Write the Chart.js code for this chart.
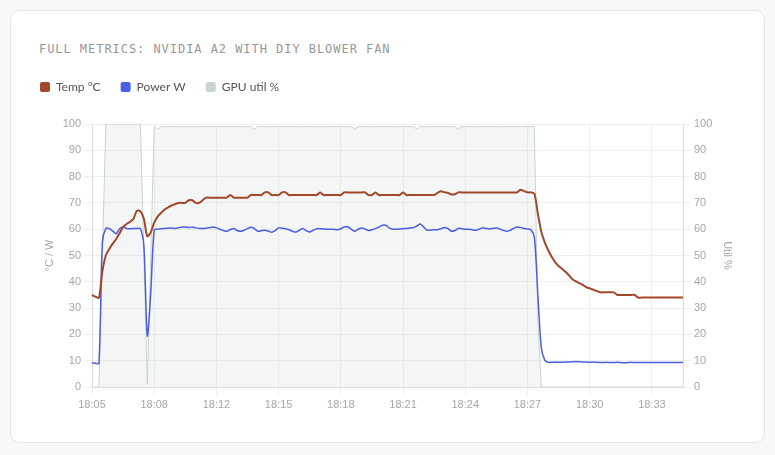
<!DOCTYPE html>
<html>
<head>
<meta charset="utf-8">
<title>Full metrics: NVIDIA A2 with DIY blower fan</title>
<script src="https://cdn.jsdelivr.net/npm/chart.js@4.4.1/dist/chart.umd.min.js"></script>
<style>
  html, body { margin: 0; padding: 0; }
  body { width: 775px; height: 455px; background: #f8f8f6; position: relative; overflow: hidden; }
  .card {
    position: absolute; left: 10px; top: 10px; width: 755px; height: 433px;
    box-sizing: border-box; background: #fff; border: 1px solid #e4e4e1; border-radius: 10px;
  }
  .chart-title {
    position: absolute; left: 39px; top: 42px; white-space: nowrap;
    font: 12px/14px "DejaVu Sans Mono", monospace; letter-spacing: 0.95px; color: #979797;
  }
  .chart-wrap { position: absolute; left: 0; top: 0; width: 775px; height: 455px; }
</style>
</head>
<body>
<div class="card"></div>
<div class="chart-title">FULL METRICS: NVIDIA A2 WITH DIY BLOWER FAN</div>
<div class="chart-wrap"><canvas id="metricsChart" width="775" height="455"></canvas></div>

<script>
/* ==========================================================================
   Full metrics chart: GPU temperature, power draw and utilisation over time.
   One sample roughly every 10 s; the x axis only labels every 18th sample.
   ========================================================================== */

const timeTicks = ["18:05", "18:08", "18:12", "18:15", "18:18", "18:21", "18:24", "18:27", "18:30", "18:33"];
const samplesPerTick = 18;

const tempC = [
  35, 34.3, 34, 44, 50, 52.5, 54.5, 56.3, 58.5, 60.8,
  62, 62.8, 64, 67, 66.8, 64, 57.3, 58.8, 62.5, 64.8,
  66.2, 67.5, 68.3, 69, 69.5, 70, 70, 70, 71, 71,
  70, 70, 71, 72, 72, 72, 72, 72, 72, 72,
  73, 72, 72, 72, 72, 72, 73, 73, 73, 73,
  74, 74, 73, 73, 73, 74, 74, 73, 73, 73,
  73, 73, 73, 73, 73, 73, 74, 73, 73, 73,
  73, 73, 73, 74, 74, 74, 74, 74, 74, 74,
  73, 73, 74, 73, 73, 73, 73, 73, 73, 73,
  74, 73, 73, 73, 73, 73, 73, 73, 73, 73,
  73.8, 74.4, 74, 73.8, 73.2, 73.3, 74, 74, 74, 74,
  74, 74, 74, 74, 74, 74, 74, 74, 74, 74,
  74, 74, 74, 74, 75, 74.5, 74, 74, 73.5, 66,
  59, 55, 52, 49.5, 47.5, 46, 45, 43.8, 42.5, 41,
  40.2, 39.5, 38.8, 38, 37.5, 37, 36.5, 36, 36, 36,
  36, 36, 35, 35, 35, 35, 35, 35, 34, 34,
  34, 34, 34, 34, 34, 34, 34, 34, 34, 34,
  34, 34
];

const powerW = [
  9.2, 9, 9, 55, 60.3, 60.2, 59.3, 58.3, 60.2, 60.8,
  60.3, 60.2, 60.3, 60.3, 60.2, 54, 19.5, 36, 59.8, 60,
  60.2, 60.3, 60.4, 60.5, 60.3, 60.5, 60.8, 60.8, 60.6, 60.8,
  60.5, 60.3, 60.3, 60.4, 60.6, 60.8, 60.5, 60, 59.5, 59.2,
  59.8, 60.3, 59.5, 59.2, 59.6, 60.2, 60.7, 60.2, 59.2, 59.4,
  59.6, 59.3, 58.8, 59.5, 60.5, 60.4, 60.2, 59.8, 59.2, 58.9,
  59.6, 60.3, 59.4, 58.9, 59.6, 60.2, 60.2, 60.1, 60, 60,
  59.9, 59.8, 60.2, 60.8, 60.9, 60, 59.2, 60, 60.5, 60.1,
  59.5, 59.8, 60.2, 60.8, 61.5, 61.5, 60.5, 60, 60, 60.1,
  60.2, 60.3, 60.5, 60.6, 61.2, 62, 60.8, 59.6, 59.7, 59.8,
  59.8, 60.2, 60.6, 60.2, 59.2, 59.5, 60.3, 60.2, 60, 60,
  59.8, 59.6, 60, 60.5, 60.3, 60.1, 60.3, 60.5, 60.1, 59.6,
  59.2, 59.6, 60.3, 60.8, 60.6, 60.3, 60.1, 59.8, 57, 35,
  15, 10.2, 9.4, 9.4, 9.5, 9.4, 9.4, 9.5, 9.5, 9.6,
  9.7, 9.6, 9.5, 9.5, 9.4, 9.5, 9.4, 9.3, 9.3, 9.4,
  9.3, 9.3, 9.4, 9.3, 9.2, 9.3, 9.4, 9.3, 9.3, 9.3,
  9.3, 9.3, 9.3, 9.3, 9.3, 9.3, 9.3, 9.3, 9.3, 9.3,
  9.3, 9.3
];

const utilPct = [
  0, 0, 0, 50, 100, 100, 100, 100, 100, 100,
  100, 100, 100, 100, 100, 50, 1, 50, 99, 98,
  99, 99, 99, 99, 99, 99, 99, 99, 99, 99,
  99, 99, 99, 99, 99, 99, 99, 99, 99, 99,
  99, 99, 99, 99, 99, 99, 99, 98, 99, 99,
  99, 99, 99, 99, 99, 99, 99, 99, 99, 99,
  99, 99, 99, 99, 99, 99, 99, 99, 99, 99,
  99, 99, 99, 99, 99, 99, 98, 99, 99, 99,
  99, 99, 99, 99, 99, 99, 99, 99, 99, 99,
  99, 99, 99, 99, 98, 99, 99, 99, 99, 99,
  99, 99, 99, 99, 99, 99, 98, 99, 99, 99,
  99, 99, 99, 99, 99, 99, 99, 99, 99, 99,
  99, 99, 99, 99, 99, 99, 99, 99, 99, 25,
  0, 0, 0, 0, 0, 0, 0, 0, 0, 0,
  0, 0, 0, 0, 0, 0, 0, 0, 0, 0,
  0, 0, 0, 0, 0, 0, 0, 0, 0, 0,
  0, 0, 0, 0, 0, 0, 0, 0, 0, 0,
  0, 0
];

const yTicks = { min: 0, max: 100, step: 10 };

const GRID = "#efefef";
const BORDER = "#dcdcdc";
const TICK_TEXT = "#a6a6a6";

/* ---------------- extra room between the legend and the plot ---------------- */
const legendGap = {
  id: "legendGap",
  beforeInit(chart) {
    const fit = chart.legend.fit;
    chart.legend.fit = function () {
      fit.call(this);
      this.height += 21;
    };
  }
};

function renderMetricsChart() {
  const ctx = document.getElementById("metricsChart");
  if (!ctx || typeof Chart === "undefined") return;

  Chart.defaults.font.family = "'Liberation Sans', Arial, sans-serif";
  Chart.defaults.font.size = 11;
  Chart.defaults.color = TICK_TEXT;

  // only every 18th sample carries a time label
  const labels = tempC.map((_, i) => (i % samplesPerTick === 0 ? timeTicks[i / samplesPerTick] : ""));

  new Chart(ctx, {
    type: "line",
    data: {
      labels,
      datasets: [
        {
          label: "Temp °C",
          data: tempC,
          yAxisID: "y",
          borderColor: "#a3472b",
          backgroundColor: "#a3472b",
          borderWidth: 2,
          tension: 0.3
        },
        {
          label: "Power W",
          data: powerW,
          yAxisID: "y",
          borderColor: "#4d5de3",
          backgroundColor: "#4d5de3",
          borderWidth: 1.5,
          tension: 0.3
        },
        {
          label: "GPU util %",
          data: utilPct,
          yAxisID: "y1",
          borderColor: "#c9d4cf",
          backgroundColor: "rgba(200, 212, 206, 0.22)",
          borderWidth: 1,
          tension: 0,
          fill: "origin"
        }
      ]
    },
    options: {
      responsive: false,
      animation: false,
      events: [],
      elements: { point: { radius: 0 } },
      layout: { padding: { left: 20, top: 61, right: 36, bottom: 44 } },
      plugins: {
        tooltip: { enabled: false },
        legend: {
          position: "top",
          align: "start",
          labels: {
            boxWidth: 10,
            boxHeight: 10,
            padding: 20,
            color: "#555",
            useBorderRadius: true,
            borderRadius: 2,
            font: { family: "Lato, 'Noto Sans', sans-serif", size: 12 },
            generateLabels(chart) {
              return chart.data.datasets.map((ds, i) => ({
                text: ds.label,
                fillStyle: ds.borderColor,
                strokeStyle: ds.borderColor,
                lineWidth: 0,
                borderRadius: 2,
                fontColor: "#555",
                hidden: !chart.isDatasetVisible(i),
                datasetIndex: i
              }));
            }
          }
        }
      },
      scales: {
        x: {
          grid: { color: (c) => (c.index % samplesPerTick === 0 ? GRID : "rgba(0,0,0,0)"), tickLength: 8 },
          border: { color: BORDER },
          ticks: {
            autoSkip: false,
            maxRotation: 0,
            color: TICK_TEXT,
            callback(value) { return this.getLabelForValue(value); }
          },
          afterFit(scale) { scale.height = 24; }
        },
        y: {
          position: "left",
          min: yTicks.min,
          max: yTicks.max,
          ticks: { stepSize: yTicks.step, color: TICK_TEXT },
          grid: { color: GRID, tickLength: 8 },
          border: { color: BORDER },
          title: { display: true, text: "°C / W", color: TICK_TEXT, padding: { top: 23, bottom: 0 } },
          afterFit(scale) { scale.width = 72; }
        },
        y1: {
          position: "right",
          min: yTicks.min,
          max: yTicks.max,
          ticks: { stepSize: yTicks.step, color: TICK_TEXT },
          grid: { drawOnChartArea: false, color: GRID, tickLength: 8 },
          border: { color: BORDER },
          title: { display: true, text: "Util %", color: TICK_TEXT, padding: { top: 5, bottom: 0 } },
          afterFit(scale) { scale.width = 56; }
        }
      }
    },
    plugins: [legendGap]
  });
}

document.addEventListener("DOMContentLoaded", renderMetricsChart);
</script>
</body>
</html>
